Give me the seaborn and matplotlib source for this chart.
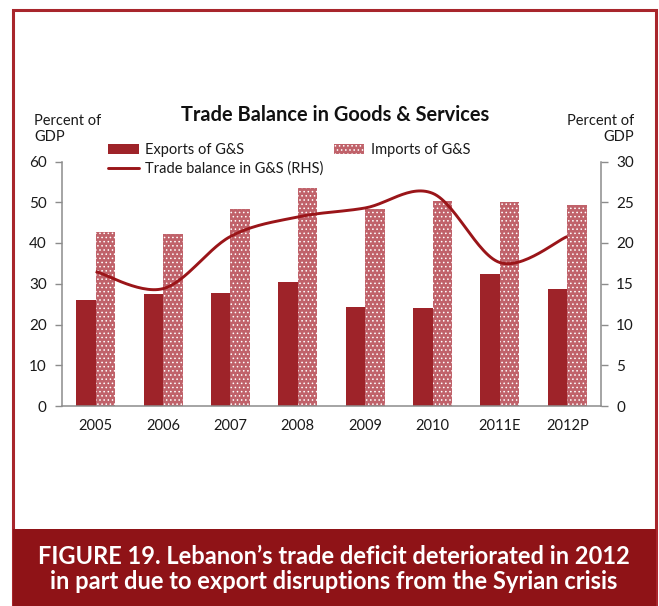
import numpy as np
import pandas as pd
import matplotlib
matplotlib.use("Agg")
import matplotlib.pyplot as plt
from matplotlib.patches import Rectangle, Patch
from matplotlib.lines import Line2D
import seaborn as sns

# Lebanon: trade in goods & services, percent of GDP
years = ["2005", "2006", "2007", "2008", "2009", "2010", "2011E", "2012P"]
exports = [26.1, 27.6, 27.8, 30.4, 24.3, 24.1, 32.3, 28.6]
imports = [42.6, 42.2, 48.3, 53.5, 48.4, 50.3, 50.1, 49.3]
trade_balance = [16.5, 14.4, 20.8, 23.2, 24.3, 26.1, 17.6, 20.8]

EXPORT_RED = "#9E2329"
IMPORT_ROSE = "#C0626A"
LINE_RED = "#9A1519"
FRAME_RED = "#A8262C"
CAPTION_RED = "#8F1317"
SPINE = "#8C8C8C"

sns.set_theme(style="white")
plt.rcParams["font.family"] = ["Lato", "DejaVu Sans"]
plt.rcParams["hatch.linewidth"] = 0.6

W, H = 659, 606
fig = plt.figure(figsize=(W / 100, H / 100), dpi=100)
fig.patch.set_facecolor("white")


def px(x0, y0, x1, y1):
    """Pixel box (top-left origin) -> figure-fraction rect."""
    return [x0 / W, 1 - y1 / H, (x1 - x0) / W, (y1 - y0) / H]


ax = fig.add_axes(px(62, 161.5, 601, 406))

long = pd.DataFrame({
    "year": years * 2,
    "value": exports + imports,
    "series": ["Exports of G&S"] * len(years) + ["Imports of G&S"] * len(years),
})
sns.barplot(data=long, x="year", y="value", hue="series", order=years,
            palette=[EXPORT_RED, IMPORT_ROSE], width=0.58, gap=0,
            saturation=1, ax=ax, legend=False)

n = len(years)
for i, p in enumerate(ax.patches[:2 * n]):
    p.set_linewidth(0)
    if i >= n:
        p.set_facecolor(IMPORT_ROSE)
        p.set_edgecolor("white")
        p.set_hatch("....")

ax.set_xlim(-0.5, n - 0.5)
ax.set_ylim(0, 60)
ax.set_yticks(range(0, 61, 10))
ax.set_xlabel("")
ax.set_ylabel("")
ax.set_xticks(range(n))
ax.set_xticklabels(years)
ax.set_xticks(np.arange(-0.5, n, 1.0), minor=True)
ax.tick_params(axis="x", which="major", length=0, pad=9, labelsize=10.5, colors="#1a1a1a")
ax.tick_params(axis="x", which="minor", length=5, width=1, color=SPINE, direction="out")
ax.tick_params(axis="y", length=5, width=1, color=SPINE, direction="out", left=True,
               pad=6, labelsize=11, labelcolor="#1a1a1a")
for side in ["top", "right"]:
    ax.spines[side].set_visible(False)
for side in ["left", "bottom"]:
    ax.spines[side].set_color(SPINE)
    ax.spines[side].set_linewidth(1.1)

# Trade balance on the right-hand scale, drawn as a smoothed curve
ax2 = ax.twinx()
xs = np.arange(n, dtype=float)
ys = np.asarray(trade_balance, dtype=float)
pts = np.vstack([xs, ys]).T
ext = np.vstack([pts[0], pts, pts[-1]])
curve = []
for k in range(1, len(ext) - 2):
    p0, p1, p2, p3 = ext[k - 1], ext[k], ext[k + 1], ext[k + 2]
    t = np.linspace(0, 1, 30)[:, None]
    seg = 0.5 * ((2 * p1) + (-p0 + p2) * t + (2 * p0 - 5 * p1 + 4 * p2 - p3) * t ** 2
                 + (-p0 + 3 * p1 - 3 * p2 + p3) * t ** 3)
    curve.append(seg)
curve = np.vstack(curve)
ax2.plot(curve[:, 0], curve[:, 1], color=LINE_RED, lw=2.1, solid_capstyle="butt")
ax2.set_ylim(0, 30)
ax2.set_yticks(range(0, 31, 5))
ax2.tick_params(axis="y", length=5, width=1, color=SPINE, direction="out", right=True,
                pad=6, labelsize=11, labelcolor="#1a1a1a")
for side in ["top", "left", "bottom"]:
    ax2.spines[side].set_visible(False)
ax2.spines["right"].set_color(SPINE)
ax2.spines["right"].set_linewidth(1.1)
ax2.grid(False)
ax.grid(False)

# Titles and axis captions
fig.text(335 / W, 1 - 115 / H, "Trade Balance in Goods & Services", ha="center",
         va="center", fontsize=14.4, fontweight="bold", color="#111111")
fig.text(34 / W, 1 - 129 / H, "Percent of\nGDP", ha="left", va="center",
         fontsize=10.5, color="#1a1a1a", linespacing=1.25)
fig.text(634 / W, 1 - 129 / H, "Percent of\nGDP", ha="right", va="center",
         fontsize=10.5, color="#1a1a1a", linespacing=1.25, multialignment="right")

# Legend
handles = [
    Patch(facecolor=EXPORT_RED, edgecolor="none", label="Exports of G&S"),
    Line2D([0], [0], color=LINE_RED, lw=2.1, label="Trade balance in G&S (RHS)"),
    Patch(facecolor=IMPORT_ROSE, edgecolor="white", hatch="....", lw=0, label="Imports of G&S"),
]
leg = fig.legend(handles=handles, ncol=2, loc="upper left",
                 bbox_to_anchor=(108 / W, 1 - 143 / H), frameon=False,
                 fontsize=10.5, handlelength=2.1, handleheight=0.75,
                 handletextpad=0.45, columnspacing=0.7, labelspacing=0.3,
                 borderpad=0, borderaxespad=0)
for t in leg.get_texts():
    t.set_color("#1a1a1a")

# Frame and caption band
fig.patches.append(Rectangle((13 / W, 0), (656 - 13) / W, 1 - 10 / H,
                             transform=fig.transFigure, fill=False,
                             edgecolor=FRAME_RED, lw=2.2, zorder=0))
fig.patches.append(Rectangle((13 / W, 0), (656 - 13) / W, (606 - 529) / H,
                             transform=fig.transFigure, facecolor=CAPTION_RED,
                             edgecolor="none", zorder=1))
fig.text(334 / W, 1 - 569 / H,
         "FIGURE 19. Lebanon\u2019s trade deficit deteriorated in 2012\n"
         "in part due to export disruptions from the Syrian crisis",
         ha="center", va="center", color="white", fontsize=17, fontweight="bold",
         linespacing=1.15)

fig.savefig("out.png", dpi=100)
